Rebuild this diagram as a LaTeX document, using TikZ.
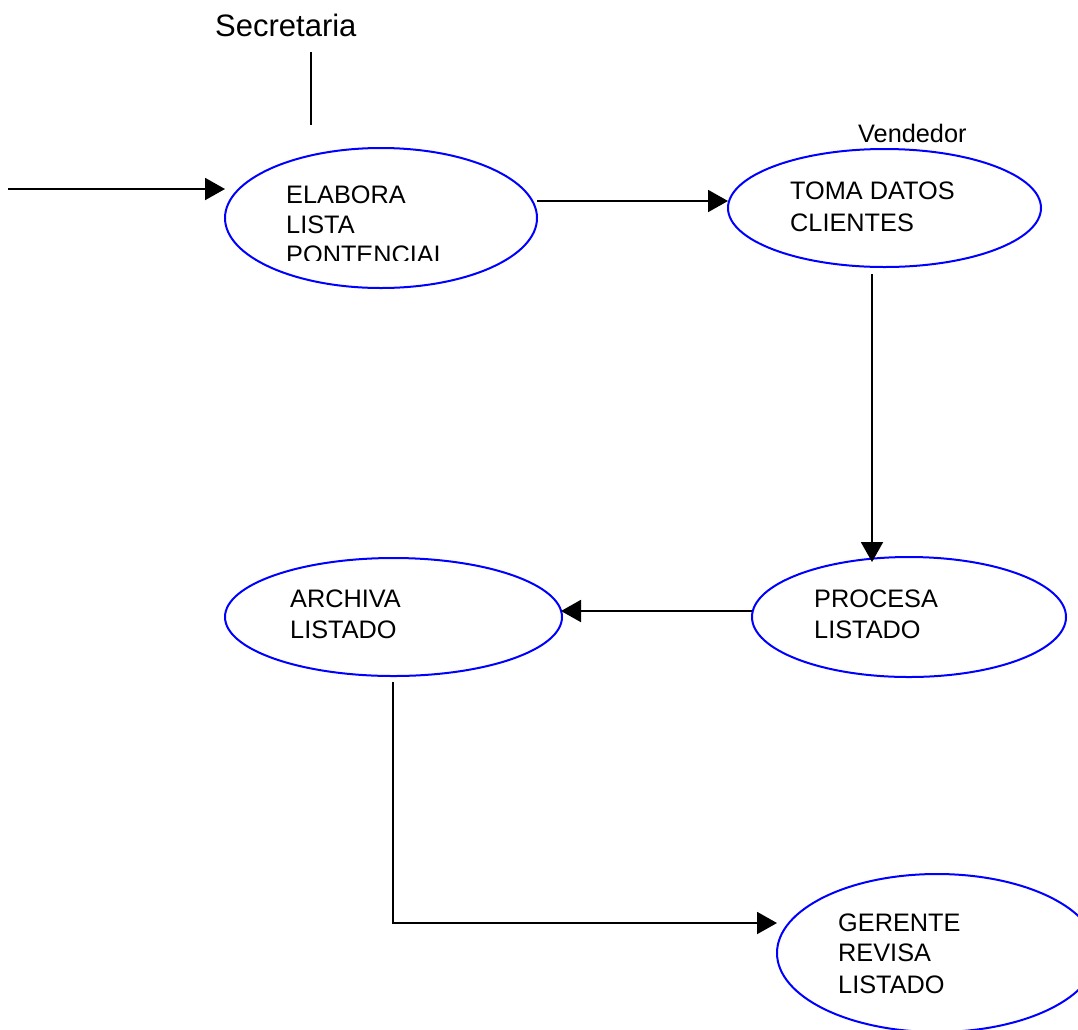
\documentclass[tikz,border=0pt]{standalone}
\usepackage{fontspec}
\setmainfont{Liberation Sans}
\usetikzlibrary{shapes.geometric,arrows.meta}
\definecolor{procblue}{RGB}{0,0,255}
\begin{document}
\begin{tikzpicture}[x=1pt,y=-1pt,
  proc/.style={ellipse,draw=procblue,line width=2pt,inner sep=0pt,outer sep=0pt},
  lbl/.style={anchor=base west,inner sep=0pt,font=\fontsize{25.3}{30}\selectfont},
  role/.style={anchor=base west,inner sep=0pt},
  flow/.style={line width=2pt,-{Triangle[length=20pt,width=22pt]}},
  plain/.style={line width=2pt}]
  \useasboundingbox (0,0) rectangle (1078,1029);
  \clip (0,0) rectangle (1078,1029);

  % processes
  \node[proc,minimum width=312pt,minimum height=140pt] (elabora) at (381,218) {};
  \node[proc,minimum width=313pt,minimum height=118pt] (toma) at (884.5,208) {};
  \node[proc,minimum width=337pt,minimum height=118pt] (archiva) at (393.5,617) {};
  \node[proc,minimum width=314pt,minimum height=120pt] (procesa) at (909,617) {};
  \node[proc,minimum width=320pt,minimum height=158pt] (gerente) at (937,953) {};

  % process texts
  \node[lbl] (t1a) at (286,203) {ELABORA};
  \node[lbl] (t1b) at (286,233) {LISTA};
  \begin{scope}
    \clip (270,236) rectangle (470,260);
    \node[lbl] (t1c) at (286,263) {PONTENCIAL};
  \end{scope}
  \node[lbl] (t2a) at (790,199) {TOMA DATOS};
  \node[lbl] (t2b) at (790,231) {CLIENTES};
  \node[lbl] (t3a) at (290,607) {ARCHIVA};
  \node[lbl] (t3b) at (290,638) {LISTADO};
  \node[lbl] (t4a) at (814,607) {PROCESA};
  \node[lbl] (t4b) at (814,638) {LISTADO};
  \node[lbl] (t5a) at (838,931) {GERENTE};
  \node[lbl] (t5b) at (838,961) {REVISA};
  \node[lbl] (t5c) at (838,993) {LISTADO};

  % roles
  \node[role,font=\fontsize{31}{36}\selectfont] (secretaria) at (215,36) {Secretaria};
  \node[role,font=\fontsize{25.3}{30}\selectfont] (vendedor) at (858,142) {Vendedor};

  % connector end points
  \coordinate (s1) at (311,52);  \coordinate (s2) at (311,125);
  \coordinate (a1) at (8,189);   \coordinate (a2) at (225,189);
  \coordinate (b1) at (537,201); \coordinate (b2) at (728,201);
  \coordinate (c1) at (872,274); \coordinate (c2) at (872,562);
  \coordinate (d1) at (752,611); \coordinate (d2) at (561,611);
  \coordinate (e1) at (393,682); \coordinate (e2) at (777,923);

  % connectors
  \draw[plain] (s1) -- (s2);
  \draw[flow] (a1) -- (a2);
  \draw[flow] (b1) -- (b2);
  \draw[flow] (c1) -- (c2);
  \draw[flow] (d1) -- (d2);
  \draw[flow] (e1) |- (e2);
\end{tikzpicture}
\end{document}
